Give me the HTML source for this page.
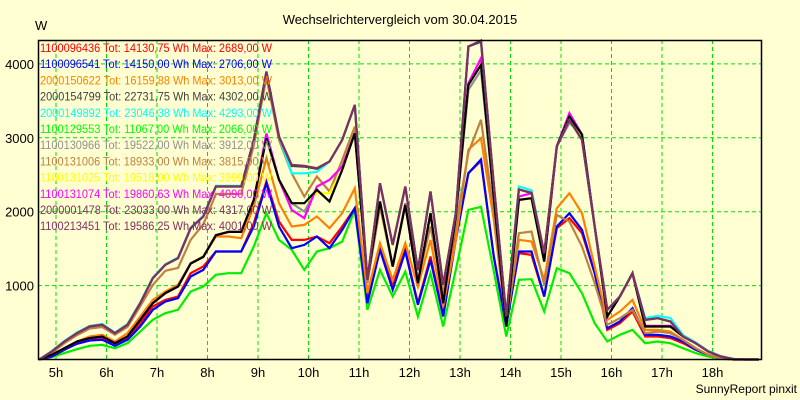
<!DOCTYPE html>
<html><head><meta charset="utf-8"><style>
html,body{margin:0;padding:0;background:#ffffd2;}
svg{display:block;font-family:"Liberation Sans",sans-serif;}
</style></head><body>
<svg id="chart" width="800" height="400" xmlns="http://www.w3.org/2000/svg">
<rect x="0" y="0" width="800" height="400" fill="#ffffd2"/>
<text x="400" y="24" font-size="13" text-anchor="middle" fill="#000">Wechselrichtervergleich vom 30.04.2015</text>
<text x="35" y="30" font-size="13" fill="#000">W</text>
<text x="797" y="393" font-size="12" text-anchor="end" fill="#000">SunnyReport pinxit</text>
<g id="grid"></g>
<g id="yticks"></g>
<g id="xticks"></g>
<g id="series"></g>
<rect x="38.5" y="40.5" width="723" height="319" fill="none" stroke="#000" stroke-width="1.5"/>
<g id="legend"></g>
</svg>
<script>
const hourTicks = ["5h","6h","7h","8h","9h","10h","11h","12h","13h","14h","15h","16h","17h","18h"];
const yTicks = [1000,2000,3000,4000];
const startHour = 4 + 40/60;
const stepHours = 0.25;

const sGreen = [0,32,86,140,185,198,153,221,379,537,627,672,920,988,1146,1168,1168,1529,1980,1619,1484,1213,1461,1506,1596,2025,672,1213,852,1190,582,1168,446,1213,2025,2066,1200,311,1078,1087,649,1236,1168,897,491,243,334,401,221,243,221,153,86,41,9,0,0,0];
const sRed = [0,41,131,221,266,289,198,289,492,717,807,852,1168,1258,1461,1461,1461,1845,2408,1867,1619,1619,1664,1574,1800,2048,852,1506,988,1484,762,1394,604,1664,2521,2689,1400,491,1440,1416,852,1777,1912,1709,1168,401,491,649,311,311,289,221,131,63,18,0,0,0];
const sBlue = [0,41,131,212,257,266,185,266,446,672,785,830,1123,1213,1461,1461,1461,1800,2386,1800,1506,1551,1664,1506,1754,2048,762,1484,943,1461,740,1349,582,1619,2521,2706,1400,446,1461,1461,852,1800,1980,1754,1168,424,514,694,334,334,311,244,131,63,18,0,0,0];
const sOrange = [0,63,153,244,311,334,244,356,582,807,920,1010,1303,1394,1664,1664,1642,2070,2724,2115,1800,1822,1935,1777,1980,2318,897,1574,1078,1574,988,1619,717,1619,2840,2995,1900,491,1620,1597,1078,2048,2250,1980,1258,537,649,807,401,401,379,266,153,63,18,0,0,0];
const sTan = [0,90,220,330,420,440,335,440,720,1010,1200,1240,1620,1830,2240,2240,2240,2900,3815,2972,2520,2205,2476,2273,2700,3152,1033,2070,1258,2115,1078,1800,896,1800,2800,3243,2000,491,1709,1732,1010,1957,1867,1529,1033,469,559,672,356,379,356,266,153,63,18,0,0,0];
const sGray = [0,63,153,244,289,311,221,311,537,762,898,988,1299,1389,1682,1727,1727,2160,2995,2431,2115,2002,2296,2138,2566,3062,1083,2138,1258,2092,1033,1980,762,1935,3650,3912,2205,446,2160,2183,1326,2886,3200,3044,1800,582,852,1168,446,446,446,311,221,108,41,5,0,0];
const sYellow = [0,63,153,244,289,311,221,311,537,762,898,988,1299,1389,1682,1727,1727,2160,2995,2431,2115,2115,2250,2250,2566,3062,1083,2138,1258,2092,1033,1980,762,1935,3716,3999,2205,446,2160,2183,1326,2886,3288,2990,1800,582,852,1168,446,446,446,311,221,108,41,5,0,0];
const sMagenta = [0,63,153,244,289,311,221,311,537,762,898,988,1299,1389,1682,1727,1727,2160,3060,2431,2025,1912,2341,2431,2611,3062,1083,2138,1258,2092,1033,1980,762,1935,3739,4077,2205,446,2205,2250,1326,2886,3333,3044,1800,582,852,1168,455,455,455,311,221,108,41,5,0,0];
const sBlack = [0,63,153,244,289,311,221,311,537,762,898,988,1299,1389,1682,1727,1727,2160,2995,2431,2115,2115,2296,2138,2566,3062,1083,2138,1258,2092,1033,1980,762,1935,3716,3987,2205,446,2160,2183,1326,2886,3288,3044,1800,582,852,1168,446,446,446,311,221,108,41,5,0,0];
const sCyan = [0,115,250,365,455,480,365,480,770,1110,1290,1380,1785,1945,2350,2350,2350,2975,3900,3020,2520,2520,2540,2679,2972,3445,1078,2385,1551,2340,1209,2273,1010,1980,4240,4293,2386,586,2340,2290,1439,2882,3243,2972,1800,672,852,1168,560,590,560,330,230,115,45,8,0,0];
const sDark = [0,108,243,356,447,469,356,469,762,1100,1281,1371,1777,1935,2341,2341,2341,2970,3890,3017,2620,2610,2580,2679,2972,3445,1078,2385,1551,2340,1209,2273,1010,1980,4235,4302,2386,586,2300,2255,1439,2882,3243,2972,1800,672,852,1168,536,559,514,311,221,108,41,5,0,0];
const sPurple = [0,108,243,356,447,469,356,469,762,1100,1281,1371,1777,1935,2341,2341,2341,2970,3896,3017,2634,2620,2589,2679,2972,3445,1078,2385,1551,2340,1209,2273,1010,1980,4235,4317,2386,586,2300,2255,1439,2882,3243,2972,1800,672,852,1168,536,559,514,311,221,108,41,5,0,0];

const legendLabels = [
 "1100096436 Tot: 14130,75 Wh Max: 2689,00 W",
 "1100096541 Tot: 14150,00 Wh Max: 2706,00 W",
 "2000150622 Tot: 16159,88 Wh Max: 3013,00 W",
 "2000154799 Tot: 22731,75 Wh Max: 4302,00 W",
 "2000149892 Tot: 23046,38 Wh Max: 4293,00 W",
 "1100129553 Tot: 11067,00 Wh Max: 2066,00 W",
 "1100130966 Tot: 19522,00 Wh Max: 3912,00 W",
 "1100131006 Tot: 18933,00 Wh Max: 3815,00 W",
 "1100131025 Tot: 19518,00 Wh Max: 3999,00 W",
 "1100131074 Tot: 19860,63 Wh Max: 4090,00 W",
 "2000001478 Tot: 23033,00 Wh Max: 4317,00 W",
 "1100213451 Tot: 19586,25 Wh Max: 4001,00 W"
];
const legendColors = ["#ff0000","#0000ff","#ff8000","#404040","#00ffff","#00ff00","#909090","#c08040","#ffff00","#ff00ff","#803060","#803060"];

const NS = "http://www.w3.org/2000/svg";
function xScale(h){ return 56 + (h - 5) * 50.5; }
function yScale(v){ return 359.5 - v * 0.0739; }

const grid = document.getElementById('grid');
hourTicks.forEach((lab, k) => {
  const x = xScale(5 + k);
  const l = document.createElementNS(NS,'line');
  
  
  l.setAttribute('x1', x); l.setAttribute('x2', x); l.setAttribute('y1', 40); l.setAttribute('y2', 359);
  l.setAttribute('stroke', '#00e000'); l.setAttribute('stroke-dasharray', '4,3'); l.setAttribute('stroke-width', '1');
  grid.appendChild(l);
  const t = document.createElementNS(NS,'text');
  
  
  t.setAttribute('x', x); t.setAttribute('y', 377); t.setAttribute('font-size', '13'); t.setAttribute('text-anchor', 'middle');
  t.textContent = lab;
  document.getElementById('xticks').appendChild(t);
});
yTicks.forEach(v => {
  const y = yScale(v);
  const l = document.createElementNS(NS,'line');
  
  
  l.setAttribute('x1', 38); l.setAttribute('x2', 762); l.setAttribute('y1', y); l.setAttribute('y2', y);
  l.setAttribute('stroke', '#00e000'); l.setAttribute('stroke-dasharray', '4,3'); l.setAttribute('stroke-width', '1');
  grid.appendChild(l);
  const t = document.createElementNS(NS,'text');
  
  
  t.setAttribute('x', 34); t.setAttribute('y', y + 5); t.setAttribute('font-size', '13'); t.setAttribute('text-anchor', 'end');
  t.textContent = String(v);
  document.getElementById('yticks').appendChild(t);
});

const drawOrder = [
  [sGreen, "#00ee00", "series-1100129553"],
  [sRed, "#ff0000", "series-1100096436"],
  [sBlue, "#0000ff", "series-1100096541"],
  [sOrange, "#ff8000", "series-2000150622"],
  [sTan, "#c08040", "series-1100131006"],
  [sGray, "#909090", "series-1100130966"],
  [sYellow, "#ffff00", "series-1100131025"],
  [sMagenta, "#ff00ff", "series-1100131074"],
  [sBlack, "#000000", "series-1100213451"],
  [sCyan, "#00ffff", "series-2000149892"],
  [sDark, "#404040", "series-2000154799"],
  [sPurple, "#803060", "series-2000001478"]
];
const sg = document.getElementById('series');
drawOrder.forEach(([vals, col, name]) => {
  const pts = vals.map((v, i) => xScale(startHour + i * stepHours).toFixed(1) + ',' + yScale(v).toFixed(1)).join(' ');
  const p = document.createElementNS(NS,'polyline');
  
  
  p.setAttribute('points', pts);
  p.setAttribute('fill', 'none'); p.setAttribute('stroke', col); p.setAttribute('stroke-width', '2.2');
  p.setAttribute('stroke-linejoin', 'miter');
  sg.appendChild(p);
});

const lg = document.getElementById('legend');
legendLabels.forEach((lab, k) => {
  const t = document.createElementNS(NS,'text');
  
  
  t.setAttribute('x', 40); t.setAttribute('y', 52 + k * 16.2);
  t.setAttribute('font-size', '12'); t.setAttribute('fill', legendColors[k]);
  t.setAttribute('textLength', '232'); t.setAttribute('lengthAdjust', 'spacingAndGlyphs');
  t.textContent = lab;
  lg.appendChild(t);
});
</script>
</body></html>
